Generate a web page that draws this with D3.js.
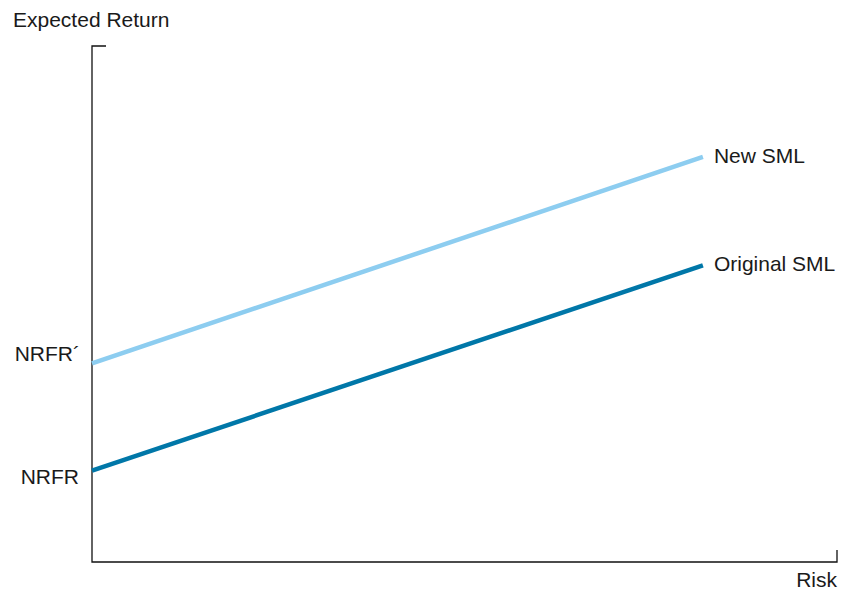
<!DOCTYPE html>
<html><head><meta charset="utf-8">
<script src="https://cdn.jsdelivr.net/npm/d3@7"></script>
<style>body{margin:0;background:#fff}svg{display:block}text{font-family:"Liberation Sans",Arial,sans-serif;font-size:21px;fill:#1a1a1a}</style>
</head><body><svg id="c" width="841" height="593"></svg>
<script>
const riskPoints = [0, 0.82];
const originalSML = [1.77, 5.75];
const newSML = [3.85, 7.85];
const seriesNames = ["Original SML", "New SML"];
const yTickLabels = ["NRFR", "NRFR´"];
const axisTitles = {x: "Risk", y: "Expected Return"};

const svg = d3.select("#c");
const x = d3.scaleLinear().domain([0, 1]).range([92, 837]);
const y = d3.scaleLinear().domain([0, 10]).range([562, 46]);

// axes
svg.append("path").attr("fill","none").attr("stroke","#111").attr("stroke-width",1.3)
  .attr("d", `M${x(0)+14},${y(10)}H${x(0)}V${y(0)}H${x(1)}V${y(0)-12}`);

const series = [
  {name: seriesNames[1], vals: newSML, color: "#8DCDF0"},
  {name: seriesNames[0], vals: originalSML, color: "#0077A8"}
];
const line = d3.line().x(d=>x(d[0])).y(d=>y(d[1]));
series.forEach(s=>{
  const pts = riskPoints.map((r,i)=>[r, s.vals[i]]);
  svg.append("path").attr("d", line(pts)).attr("fill","none")
    .attr("stroke", s.color).attr("stroke-width", 4.5);
  svg.append("text").attr("x", x(riskPoints[1]) + 11).attr("y", y(s.vals[1]) + 6)
    .text(s.name);
});

// y tick labels
svg.append("text").attr("x", 79).attr("y", y(originalSML[0]) + 13).attr("text-anchor","end").text(yTickLabels[0]);
svg.append("text").attr("x", 80).attr("y", y(newSML[0]) - 2).attr("text-anchor","end").text(yTickLabels[1]);

// axis titles
svg.append("text").attr("x", 13).attr("y", 27).text(axisTitles.y);
svg.append("text").attr("x", 837).attr("y", 587).attr("text-anchor","end").text(axisTitles.x);
</script></body></html>
